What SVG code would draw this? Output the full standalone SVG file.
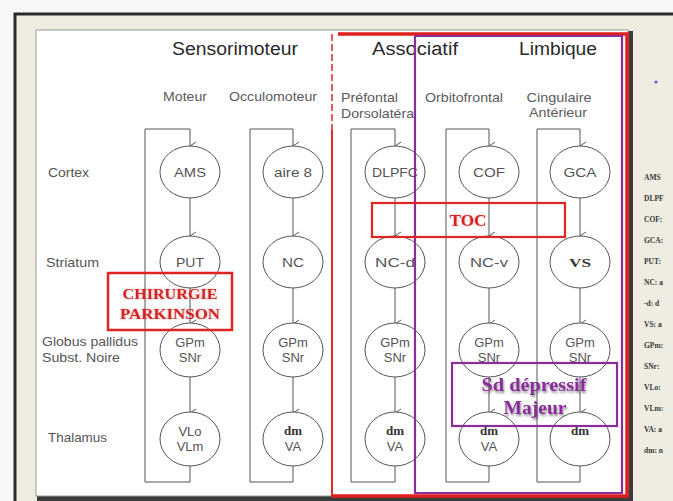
<svg xmlns="http://www.w3.org/2000/svg" width="673" height="501" viewBox="0 0 673 501">
<defs>
<marker id="arr" markerWidth="10" markerHeight="10" refX="5" refY="8" orient="auto" markerUnits="userSpaceOnUse" viewBox="0 0 10 10">
<path d="M1,2 L5,8 L9,2" fill="none" stroke="#555" stroke-width="1"/>
</marker>
<filter id="glow" x="-20%" y="-40%" width="140%" height="180%">
<feGaussianBlur in="SourceAlpha" stdDeviation="1.5" result="b"/>
<feFlood flood-color="#e05050" flood-opacity="0.5"/>
<feComposite in2="b" operator="in" result="g"/>
<feMerge><feMergeNode in="g"/><feMergeNode in="SourceGraphic"/></feMerge>
</filter>
<filter id="shadow" x="-20%" y="-40%" width="140%" height="180%">
<feGaussianBlur in="SourceAlpha" stdDeviation="1.2" result="b"/>
<feOffset in="b" dx="1" dy="1.5" result="o"/>
<feFlood flood-color="#000" flood-opacity="0.45"/>
<feComposite in2="o" operator="in" result="g"/>
<feMerge><feMergeNode in="g"/><feMergeNode in="SourceGraphic"/></feMerge>
</filter>
<filter id="soft"><feGaussianBlur stdDeviation="0.35"/></filter>
</defs>
<style>
.hd{font-family:"Liberation Sans",Arial,sans-serif;font-size:18px;fill:#2a2a2a;text-anchor:middle}
.sh{font-family:"Liberation Sans",Arial,sans-serif;font-size:13px;fill:#5a5a5a}
.rl{font-family:"Liberation Sans",Arial,sans-serif;font-size:13px;fill:#555}
.nd{font-family:"Liberation Sans",Arial,sans-serif;font-size:13px;fill:#555;text-anchor:middle}
.nb{font-family:"Liberation Serif","Times New Roman",serif;font-size:13px;font-weight:bold;fill:#333;text-anchor:middle}
.el{fill:#fff;stroke:#555;stroke-width:1}
.cn{fill:none;stroke:#555;stroke-width:1}
.lg{font-family:"Liberation Serif","Times New Roman",serif;font-size:7.5px;font-weight:bold;fill:#3a3a3a}
.rt{font-family:"Liberation Serif","Times New Roman",serif;font-weight:bold;fill:#d42424;text-anchor:middle}
.pt{font-family:"Liberation Serif","Times New Roman",serif;font-weight:bold;fill:#8a2d9a;text-anchor:middle}
</style>
<!-- background frame -->
<rect x="0" y="0" width="673" height="501" fill="#f7f7f5"/>
<rect x="15" y="14" width="660" height="490" fill="#efece2" stroke="#2b2b2b" stroke-width="3"/>
<rect x="37" y="31" width="596" height="470" fill="#3a3a3a" filter="url(#soft)"/>
<rect x="36" y="30" width="592" height="466" fill="#fff" stroke="#9a9a9a" stroke-width="1"/>
<circle cx="656" cy="82" r="1.6" fill="#4a6fb5"/>
<!-- legend -->
<g id="legend">
<text class="lg" x="644" y="180">AMS</text>
<text class="lg" x="644" y="201">DLPF</text>
<text class="lg" x="644" y="222">COF:</text>
<text class="lg" x="644" y="243">GCA:</text>
<text class="lg" x="644" y="264">PUT:</text>
<text class="lg" x="644" y="285">NC: a</text>
<text class="lg" x="644" y="306">-d: d</text>
<text class="lg" x="644" y="327">VS: a</text>
<text class="lg" x="644" y="348">GPm:</text>
<text class="lg" x="644" y="369">SNr:</text>
<text class="lg" x="644" y="390">VLo:</text>
<text class="lg" x="644" y="411">VLm:</text>
<text class="lg" x="644" y="432">VA: a</text>
<text class="lg" x="644" y="453">dm: n</text>
</g>
<!-- headers -->
<g id="headers">
<text class="hd" x="235" y="55" textLength="126" lengthAdjust="spacingAndGlyphs">Sensorimoteur</text>
<text class="hd" x="415" y="55" textLength="86" lengthAdjust="spacingAndGlyphs">Associatif</text>
<text class="hd" x="558" y="55" textLength="78" lengthAdjust="spacingAndGlyphs">Limbique</text>
<text class="sh" x="185" y="101" text-anchor="middle" textLength="44" lengthAdjust="spacingAndGlyphs">Moteur</text>
<text class="sh" x="273" y="101" text-anchor="middle" textLength="88" lengthAdjust="spacingAndGlyphs">Occulomoteur</text>
<text class="sh" x="341" y="102" textLength="57" lengthAdjust="spacingAndGlyphs">Préfontal</text>
<text class="sh" x="341" y="118" textLength="73" lengthAdjust="spacingAndGlyphs">Dorsolatéra</text>
<text class="sh" x="464" y="102" text-anchor="middle" textLength="78" lengthAdjust="spacingAndGlyphs">Orbitofrontal</text>
<text class="sh" x="559" y="102" text-anchor="middle" textLength="65" lengthAdjust="spacingAndGlyphs">Cingulaire</text>
<text class="sh" x="558" y="117" text-anchor="middle" textLength="58" lengthAdjust="spacingAndGlyphs">Antérieur</text>
</g>
<!-- row labels -->
<g id="rows">
<text class="rl" x="48" y="177" textLength="41" lengthAdjust="spacingAndGlyphs">Cortex</text>
<text class="rl" x="46" y="267" textLength="53" lengthAdjust="spacingAndGlyphs">Striatum</text>
<text class="rl" x="42" y="346" textLength="96" lengthAdjust="spacingAndGlyphs">Globus pallidus</text>
<text class="rl" x="42" y="362" textLength="78" lengthAdjust="spacingAndGlyphs">Subst. Noire</text>
<text class="rl" x="48" y="442" textLength="59" lengthAdjust="spacingAndGlyphs">Thalamus</text>
</g>
<!-- connectors -->
<g id="connectors">
<path class="cn" d="M190,465 V482 H145 V129 H190 V146" marker-end="url(#arr)"/>
<path class="cn" d="M190,198 V236" marker-end="url(#arr)"/>
<path class="cn" d="M190,288 V324" marker-end="url(#arr)"/>
<path class="cn" d="M190,376 V413" marker-end="url(#arr)"/>
<path class="cn" d="M293,465 V482 H250 V129 H293 V146" marker-end="url(#arr)"/>
<path class="cn" d="M293,198 V236" marker-end="url(#arr)"/>
<path class="cn" d="M293,288 V324" marker-end="url(#arr)"/>
<path class="cn" d="M293,376 V413" marker-end="url(#arr)"/>
<path class="cn" d="M395,465 V482 H351 V129 H395 V146" marker-end="url(#arr)"/>
<path class="cn" d="M395,198 V236" marker-end="url(#arr)"/>
<path class="cn" d="M395,288 V324" marker-end="url(#arr)"/>
<path class="cn" d="M395,376 V413" marker-end="url(#arr)"/>
<path class="cn" d="M489,465 V482 H446 V129 H489 V146" marker-end="url(#arr)"/>
<path class="cn" d="M489,198 V236" marker-end="url(#arr)"/>
<path class="cn" d="M489,288 V324" marker-end="url(#arr)"/>
<path class="cn" d="M489,376 V413" marker-end="url(#arr)"/>
<path class="cn" d="M580,465 V482 H537 V129 H580 V146" marker-end="url(#arr)"/>
<path class="cn" d="M580,198 V236" marker-end="url(#arr)"/>
<path class="cn" d="M580,288 V324" marker-end="url(#arr)"/>
<path class="cn" d="M580,376 V413" marker-end="url(#arr)"/>
</g>
<!-- nodes -->
<g id="AMS"><ellipse class="el" cx="190" cy="172" rx="30" ry="26"/><text class="nd" x="190" y="177" textLength="32" lengthAdjust="spacingAndGlyphs">AMS</text></g>
<g id="aire8"><ellipse class="el" cx="293" cy="172" rx="30" ry="26"/><text class="nd" x="293" y="177" textLength="38" lengthAdjust="spacingAndGlyphs">aire 8</text></g>
<g id="DLPFC"><ellipse class="el" cx="395" cy="172" rx="30" ry="26"/><text class="nd" x="395" y="177" textLength="46" lengthAdjust="spacingAndGlyphs">DLPFC</text></g>
<g id="COF"><ellipse class="el" cx="489" cy="172" rx="30" ry="26"/><text class="nd" x="489" y="177" textLength="32" lengthAdjust="spacingAndGlyphs">COF</text></g>
<g id="GCA"><ellipse class="el" cx="580" cy="172" rx="30" ry="26"/><text class="nd" x="580" y="177" textLength="33" lengthAdjust="spacingAndGlyphs">GCA</text></g>
<g id="PUT"><ellipse class="el" cx="190" cy="262" rx="30" ry="26"/><text class="nd" x="190" y="267" textLength="28" lengthAdjust="spacingAndGlyphs">PUT</text></g>
<g id="NC"><ellipse class="el" cx="293" cy="262" rx="30" ry="26"/><text class="nd" x="293" y="267" textLength="22" lengthAdjust="spacingAndGlyphs">NC</text></g>
<g id="NC-d"><ellipse class="el" cx="395" cy="262" rx="30" ry="26"/><text class="nd" x="395" y="267" textLength="40" lengthAdjust="spacingAndGlyphs">NC-d</text></g>
<g id="NC-v"><ellipse class="el" cx="489" cy="262" rx="30" ry="26"/><text class="nd" x="489" y="267" textLength="38" lengthAdjust="spacingAndGlyphs">NC-v</text></g>
<g id="VS"><ellipse class="el" cx="580" cy="262" rx="30" ry="26"/><text class="nb" x="580" y="267" font-size="15" textLength="22" lengthAdjust="spacingAndGlyphs">VS</text></g>
<g id="GPm1"><ellipse class="el" cx="190" cy="350" rx="30" ry="27"/><text class="nd" x="190" y="347">GPm</text><text class="nd" x="190" y="362">SNr</text></g>
<g id="GPm2"><ellipse class="el" cx="293" cy="350" rx="30" ry="27"/><text class="nd" x="293" y="347">GPm</text><text class="nd" x="293" y="362">SNr</text></g>
<g id="GPm3"><ellipse class="el" cx="395" cy="350" rx="30" ry="27"/><text class="nd" x="395" y="347">GPm</text><text class="nd" x="395" y="362">SNr</text></g>
<g id="GPm4"><ellipse class="el" cx="489" cy="350" rx="30" ry="27"/><text class="nd" x="489" y="347">GPm</text><text class="nd" x="489" y="362">SNr</text></g>
<g id="GPm5"><ellipse class="el" cx="580" cy="350" rx="30" ry="27"/><text class="nd" x="580" y="347">GPm</text><text class="nd" x="580" y="362">SNr</text></g>
<g id="VLo"><ellipse class="el" cx="190" cy="439" rx="30" ry="27"/><text class="nd" x="190" y="436">VLo</text><text class="nd" x="190" y="451">VLm</text></g>
<g id="dmVA2"><ellipse class="el" cx="293" cy="439" rx="30" ry="27"/><text class="nb" x="293" y="435">dm</text><text class="nd" x="293" y="451">VA</text></g>
<g id="dmVA3"><ellipse class="el" cx="395" cy="439" rx="30" ry="27"/><text class="nb" x="395" y="435">dm</text><text class="nd" x="395" y="451">VA</text></g>
<g id="dmVA4"><ellipse class="el" cx="489" cy="439" rx="30" ry="27"/><text class="nb" x="489" y="435">dm</text><text class="nd" x="489" y="451">VA</text></g>
<g id="dm5"><ellipse class="el" cx="580" cy="439" rx="30" ry="27"/><text class="nb" x="580" y="435">dm</text></g>
<!-- zone boxes -->
<g id="associatif-box">
<path d="M332,34 V130" fill="none" stroke="#e02828" stroke-width="1.5" stroke-dasharray="7 3"/>
<path d="M332,130 V496" fill="none" stroke="#e02828" stroke-width="2"/>
<path d="M338,34 H627 V496 H332" fill="none" stroke="#e01e1e" stroke-width="3.5"/>
</g>
<g id="limbique-box">
<path d="M415,36 V493 H622 V36 H415" fill="none" stroke="#8a2d9a" stroke-width="2.2"/>
</g>
<!-- overlays -->
<g id="chirurgie">
<rect x="108" y="273" width="124" height="57" fill="none" stroke="#e02424" stroke-width="2.5"/>
<text class="rt" x="170" y="299" font-size="15" textLength="95" lengthAdjust="spacingAndGlyphs" filter="url(#glow)">CHIRURGIE</text>
<text class="rt" x="170" y="319" font-size="15" textLength="100" lengthAdjust="spacingAndGlyphs" filter="url(#glow)">PARKINSON</text>
</g>
<g id="toc">
<rect x="372" y="203" width="193" height="34" fill="none" stroke="#e02424" stroke-width="2.2"/>
<text class="rt" x="468" y="226" font-size="16" textLength="37" lengthAdjust="spacingAndGlyphs" filter="url(#glow)">TOC</text>
</g>
<g id="sd">
<rect x="452" y="363" width="165" height="63" fill="none" stroke="#8a2d9a" stroke-width="2.2"/>
<text class="pt" x="534" y="391" font-size="18" textLength="105" lengthAdjust="spacingAndGlyphs" filter="url(#shadow)">Sd dépressif</text>
<text class="pt" x="535" y="414" font-size="18" textLength="63" lengthAdjust="spacingAndGlyphs" filter="url(#shadow)">Majeur</text>
</g>
</svg>
